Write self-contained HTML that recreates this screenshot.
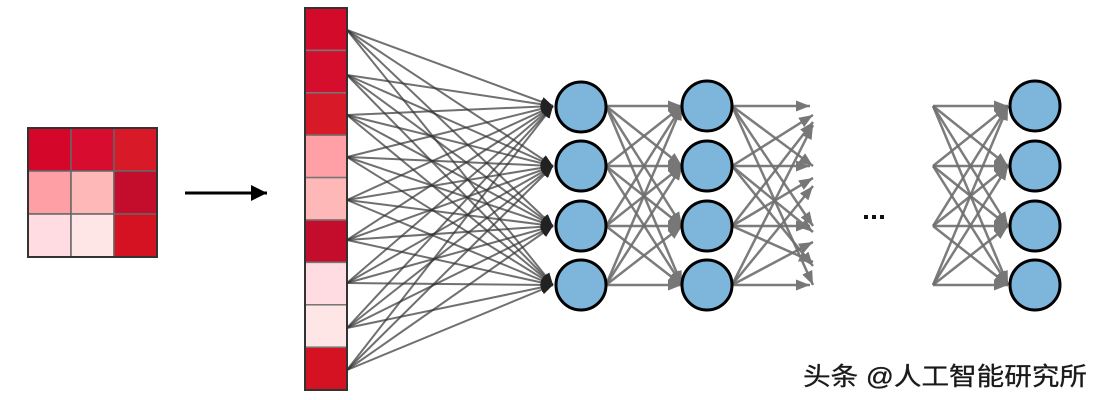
<!DOCTYPE html>
<html><head><meta charset="utf-8"><style>html,body{margin:0;padding:0;background:#fff}svg{display:block}</style></head>
<body>
<svg width="1100" height="400" viewBox="0 0 1100 400" xmlns="http://www.w3.org/2000/svg">
<defs>
<marker id="a" markerWidth="12" markerHeight="10" refX="12" refY="5" orient="auto" markerUnits="userSpaceOnUse"><path d="M0,0 L12,5 L0,10 Z" fill="#222"/></marker>
<marker id="g" markerWidth="14" markerHeight="11" refX="14" refY="5.5" orient="auto" markerUnits="userSpaceOnUse"><path d="M0,0 L14,5.5 L0,11 Z" fill="#777"/></marker>
<marker id="k" markerWidth="16" markerHeight="16" refX="16" refY="8" orient="auto" markerUnits="userSpaceOnUse"><path d="M0,0 L16,8 L0,16 Z" fill="#000"/></marker>
</defs>
<g stroke="#666" stroke-width="1.5">
<rect x="28" y="128" width="43" height="43" fill="#d4062a"/><rect x="71" y="128" width="43" height="43" fill="#d80c2e"/><rect x="114" y="128" width="43" height="43" fill="#d81a28"/>
<rect x="28" y="171" width="43" height="43" fill="#fe9fa6"/><rect x="71" y="171" width="43" height="43" fill="#feb8b8"/><rect x="114" y="171" width="43" height="43" fill="#c40c2c"/>
<rect x="28" y="214" width="43" height="43" fill="#fedce2"/><rect x="71" y="214" width="43" height="43" fill="#fee6e6"/><rect x="114" y="214" width="43" height="43" fill="#d41222"/>
</g>
<rect x="28" y="128" width="129" height="129" fill="none" stroke="#333" stroke-width="2"/>
<line x1="185" y1="193" x2="267" y2="193" stroke="#000" stroke-width="3" marker-end="url(#k)"/>
<g stroke="#777" stroke-width="1.5">
<rect x="305" y="8" width="42" height="42.4" fill="#d40a2a"/>
<rect x="305" y="50.4" width="42" height="42.4" fill="#d60e2e"/>
<rect x="305" y="92.8" width="42" height="42.4" fill="#d81a28"/>
<rect x="305" y="135.2" width="42" height="42.4" fill="#fea0a6"/>
<rect x="305" y="177.6" width="42" height="42.4" fill="#feb8b8"/>
<rect x="305" y="220" width="42" height="42.4" fill="#c40c2c"/>
<rect x="305" y="262.4" width="42" height="42.4" fill="#fedce2"/>
<rect x="305" y="304.8" width="42" height="42.4" fill="#fee6e6"/>
<rect x="305" y="347.2" width="42" height="42.8" fill="#d41222"/>
</g>
<rect x="305" y="8" width="42" height="382" fill="none" stroke="#333" stroke-width="2"/>
<g stroke="#333" stroke-opacity="0.7" stroke-width="2" marker-end="url(#a)">
<line x1="347" y1="30" x2="553" y2="106"/><line x1="347" y1="30" x2="553" y2="166"/><line x1="347" y1="30" x2="553" y2="226"/><line x1="347" y1="30" x2="553" y2="285"/>
<line x1="347" y1="75" x2="553" y2="106"/><line x1="347" y1="75" x2="553" y2="166"/><line x1="347" y1="75" x2="553" y2="226"/><line x1="347" y1="75" x2="553" y2="285"/>
<line x1="347" y1="115" x2="553" y2="106"/><line x1="347" y1="115" x2="553" y2="166"/><line x1="347" y1="115" x2="553" y2="226"/><line x1="347" y1="115" x2="553" y2="285"/>
<line x1="347" y1="157" x2="553" y2="106"/><line x1="347" y1="157" x2="553" y2="166"/><line x1="347" y1="157" x2="553" y2="226"/><line x1="347" y1="157" x2="553" y2="285"/>
<line x1="347" y1="200" x2="553" y2="106"/><line x1="347" y1="200" x2="553" y2="166"/><line x1="347" y1="200" x2="553" y2="226"/><line x1="347" y1="200" x2="553" y2="285"/>
<line x1="347" y1="240" x2="553" y2="106"/><line x1="347" y1="240" x2="553" y2="166"/><line x1="347" y1="240" x2="553" y2="226"/><line x1="347" y1="240" x2="553" y2="285"/>
<line x1="347" y1="283" x2="553" y2="106"/><line x1="347" y1="283" x2="553" y2="166"/><line x1="347" y1="283" x2="553" y2="226"/><line x1="347" y1="283" x2="553" y2="285"/>
<line x1="347" y1="328" x2="553" y2="106"/><line x1="347" y1="328" x2="553" y2="166"/><line x1="347" y1="328" x2="553" y2="226"/><line x1="347" y1="328" x2="553" y2="285"/>
<line x1="347" y1="370" x2="553" y2="106"/><line x1="347" y1="370" x2="553" y2="166"/><line x1="347" y1="370" x2="553" y2="226"/><line x1="347" y1="370" x2="553" y2="285"/>
</g>
<g stroke="#6e6e6e" stroke-opacity="0.9" stroke-width="2.5" marker-end="url(#g)">
<line x1="606" y1="106" x2="682" y2="106"/><line x1="606" y1="106" x2="682" y2="166"/><line x1="606" y1="106" x2="682" y2="226"/><line x1="606" y1="106" x2="682" y2="285"/>
<line x1="606" y1="166" x2="682" y2="106"/><line x1="606" y1="166" x2="682" y2="166"/><line x1="606" y1="166" x2="682" y2="226"/><line x1="606" y1="166" x2="682" y2="285"/>
<line x1="606" y1="226" x2="682" y2="106"/><line x1="606" y1="226" x2="682" y2="166"/><line x1="606" y1="226" x2="682" y2="226"/><line x1="606" y1="226" x2="682" y2="285"/>
<line x1="606" y1="285" x2="682" y2="106"/><line x1="606" y1="285" x2="682" y2="166"/><line x1="606" y1="285" x2="682" y2="226"/><line x1="606" y1="285" x2="682" y2="285"/>
<line x1="732" y1="106" x2="810" y2="106"/><line x1="732" y1="106" x2="813" y2="166"/><line x1="732" y1="106" x2="813" y2="226"/><line x1="732" y1="106" x2="813" y2="285"/>
<line x1="732" y1="166" x2="813" y2="115"/><line x1="732" y1="166" x2="810" y2="166"/><line x1="732" y1="166" x2="813" y2="232"/><line x1="732" y1="166" x2="813" y2="266"/>
<line x1="732" y1="226" x2="813" y2="122"/><line x1="732" y1="226" x2="813" y2="178"/><line x1="732" y1="226" x2="810" y2="226"/><line x1="732" y1="226" x2="813" y2="262"/>
<line x1="732" y1="285" x2="813" y2="125"/><line x1="732" y1="285" x2="813" y2="186"/><line x1="732" y1="285" x2="813" y2="242"/><line x1="732" y1="285" x2="810" y2="285"/>
<line x1="933" y1="106" x2="1008" y2="106"/><line x1="933" y1="106" x2="1008" y2="166"/><line x1="933" y1="106" x2="1008" y2="226"/><line x1="933" y1="106" x2="1008" y2="285"/>
<line x1="933" y1="166" x2="1008" y2="106"/><line x1="933" y1="166" x2="1008" y2="166"/><line x1="933" y1="166" x2="1008" y2="226"/><line x1="933" y1="166" x2="1008" y2="285"/>
<line x1="933" y1="226" x2="1008" y2="106"/><line x1="933" y1="226" x2="1008" y2="166"/><line x1="933" y1="226" x2="1008" y2="226"/><line x1="933" y1="226" x2="1008" y2="285"/>
<line x1="933" y1="285" x2="1008" y2="106"/><line x1="933" y1="285" x2="1008" y2="166"/><line x1="933" y1="285" x2="1008" y2="226"/><line x1="933" y1="285" x2="1008" y2="285"/>
</g>
<g fill="#7db6da" stroke="#000" stroke-width="3">
<circle cx="581" cy="107" r="25"/><circle cx="581" cy="166" r="25"/><circle cx="581" cy="226" r="25"/><circle cx="581" cy="285" r="25"/>
<circle cx="707" cy="106" r="25"/><circle cx="707" cy="166" r="25"/><circle cx="707" cy="226" r="25"/><circle cx="707" cy="285" r="25"/>
<circle cx="1035" cy="106" r="25"/><circle cx="1035" cy="166" r="25"/><circle cx="1035" cy="226" r="25"/><circle cx="1035" cy="285" r="25"/>
</g>
<g fill="#111"><rect x="864" y="215" width="4" height="4"/><rect x="872" y="215" width="4" height="4"/><rect x="880" y="215" width="4" height="4"/></g>
<text x="803" y="385" font-size="25" textLength="284" lengthAdjust="spacingAndGlyphs" fill="#1a1a1a" stroke="#1a1a1a" stroke-width="0.3" font-family="Liberation Sans, Noto Sans CJK SC, sans-serif">头条 @人工智能研究所</text>
</svg>
</body></html>
